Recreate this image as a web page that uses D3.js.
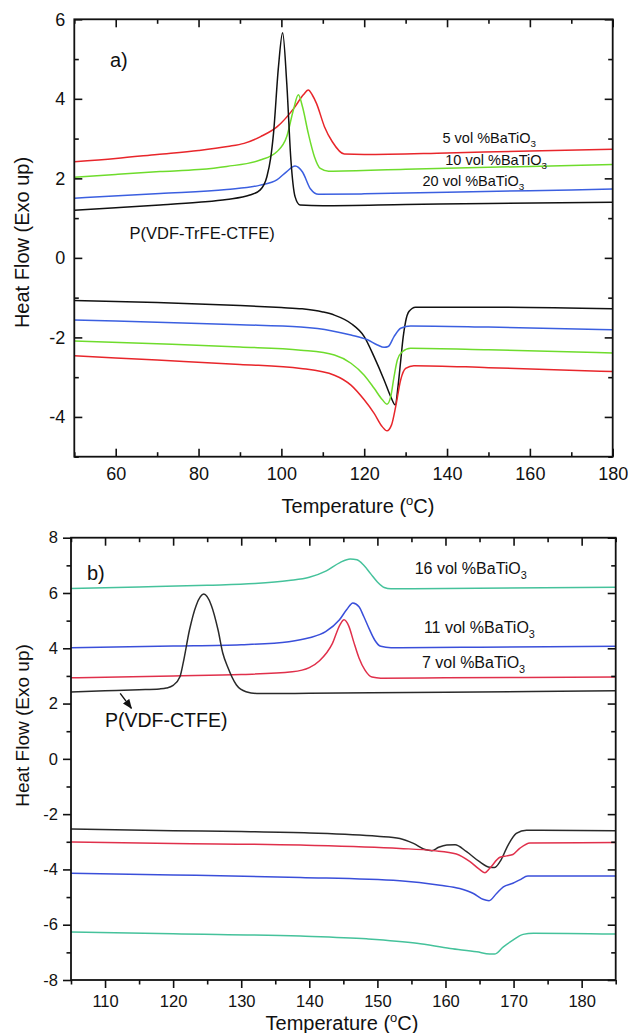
<!DOCTYPE html>
<html>
<head>
<meta charset="utf-8">
<script src="https://cdn.jsdelivr.net/npm/d3@7"></script>
<style>
  body { margin: 0; background: #fff; }
  svg { display: block; }
</style>
</head>
<body>
<svg id="chart" width="628" height="1033"></svg>
<script>
// ---------- Panel a) : P(VDF-TrFE-CTFE) and its BaTiO3 composites ----------
const tempTicksA  = [60, 80, 100, 120, 140, 160, 180];
const tempMinorA  = [50, 70, 90, 110, 130, 150, 170];
const heatTicksA  = [-4, -2, 0, 2, 4, 6];
const heatMinorA  = [-5, -3, -1, 1, 3, 5];

// cooling scans (exotherms), [temperature °C, heat flow]
const aPureCool = [[50,1.2],[60,1.26],[70.7,1.33],[80,1.4],[86.8,1.47],[92.4,1.58],[94.9,1.71],[96.5,2.04],[97.4,2.5],
  [98.1,3.13],[99.3,4.81],[100.3,5.66],[101.3,4.39],[102.3,2.46],[103.3,1.54],[104.5,1.33],[110,1.31],[130,1.34],[150,1.37],[180,1.4]];
const a5Cool  = [[50,2.42],[60,2.5],[70,2.6],[80,2.7],[87,2.8],[91,2.88],[95,3.05],[99,3.3],[103,3.76],[105.3,4.1],
  [106.5,4.22],[107.5,4.09],[108.5,3.88],[110.4,3.3],[112.3,2.92],[115.2,2.61],[120,2.6],[140,2.64],[160,2.69],[180,2.73]];
const a10Cool = [[50,2.03],[60,2.1],[70.7,2.17],[80,2.22],[86.8,2.3],[94.9,2.46],[98.9,2.67],[101.3,3.05],[102.9,3.72],
  [104.1,4.1],[105.1,3.8],[106.5,3.13],[108,2.54],[109.4,2.25],[111.4,2.18],[130,2.23],[160,2.3],[180,2.35]];
const a20Cool = [[50,1.5],[70.7,1.62],[86.8,1.72],[94.9,1.83],[98.9,1.96],[101.3,2.17],[103.3,2.31],[105.1,2.16],
  [107,1.74],[109,1.6],[120,1.61],[140,1.65],[160,1.69],[180,1.73]];

// heating scans (endotherms)
const aPureHeat = [[50,-1.07],[70,-1.12],[90,-1.2],[100,-1.25],[105,-1.28],[110,-1.36],[112.8,-1.44],[116.8,-1.65],
  [120,-1.98],[122.4,-2.49],[124.8,-3.07],[126.4,-3.49],[127.5,-3.7],[128.2,-3.2],[128.8,-2.6],[129.4,-2.0],
  [130,-1.6],[130.8,-1.35],[132.4,-1.24],[150,-1.24],[180,-1.28]];
const a5Heat  = [[50,-2.46],[70,-2.57],[90,-2.68],[104.7,-2.78],[112.8,-2.95],[116.8,-3.2],[120,-3.57],[122.4,-3.91],
  [124.4,-4.25],[125.5,-4.35],[126.6,-4.2],[127.6,-3.74],[128.8,-3.07],[130,-2.78],[132,-2.71],[150,-2.76],[180,-2.86]];
const a10Heat = [[50,-2.09],[70,-2.16],[90,-2.24],[104.7,-2.32],[112.8,-2.44],[116.8,-2.65],[120,-2.95],[122.4,-3.28],
  [124.4,-3.57],[125.5,-3.68],[126.4,-3.49],[127.2,-2.99],[128,-2.57],[129.2,-2.36],[131.2,-2.27],[150,-2.31],[180,-2.39]];
const a20Heat = [[50,-1.56],[70,-1.62],[90,-1.68],[104.7,-1.74],[112,-1.83],[116.8,-1.94],[120.8,-2.06],[123.2,-2.19],
  [124.8,-2.25],[125.8,-2.23],[127.2,-1.98],[128.8,-1.77],[131.2,-1.71],[150,-1.74],[180,-1.81]];

// ---------- Panel b) : P(VDF-CTFE) and its BaTiO3 composites ----------
const tempTicksB  = [110, 120, 130, 140, 150, 160, 170, 180];
const tempMinorB  = [105, 115, 125, 135, 145, 155, 165, 175, 185];
const heatTicksB  = [-8, -6, -4, -2, 0, 2, 4, 6, 8];
const heatMinorB  = [-7, -5, -3, -1, 1, 3, 5, 7];

const bPureCool = [[105,2.42],[110,2.46],[115,2.5],[118,2.53],[119,2.56],[120,2.66],[121,2.97],[121.5,3.5],[122.4,4.66],
  [123.4,5.56],[124.5,5.96],[125.6,5.56],[126.6,4.66],[127.3,3.82],[128,3.33],[129.3,2.67],[130.7,2.43],[132.7,2.36],
  [140,2.37],[160,2.41],[185,2.46]];
const b7Cool  = [[105,2.93],[120,3.0],[130,3.05],[137.5,3.15],[140,3.3],[141.5,3.55],[143.4,4.18],[144.5,4.85],[145.1,5.03],
  [145.8,4.8],[146.5,4.25],[147.3,3.65],[148.2,3.2],[149.2,2.96],[150.5,2.92],[160,2.93],[185,2.96]];
const b11Cool = [[105,4.02],[120,4.08],[130,4.13],[137,4.24],[140,4.38],[142.4,4.6],[144.4,5.02],[145.5,5.4],[146.4,5.64],
  [147.3,5.5],[148,5.15],[148.8,4.7],[149.6,4.3],[150.5,4.07],[152,4.02],[165,4.04],[185,4.07]];
const b16Cool = [[105,6.16],[115,6.22],[125,6.28],[132,6.34],[137,6.45],[140,6.57],[142.5,6.8],[144.5,7.1],[146,7.23],
  [147,7.2],[148,7.0],[149,6.7],[150,6.4],[151,6.2],[152,6.15],[160,6.16],[185,6.21]];

const bPureHeat = [[105,-2.54],[120,-2.6],[130,-2.63],[140,-2.68],[150,-2.8],[153.3,-2.88],[155.3,-3.06],[157,-3.28],
  [158,-3.32],[159,-3.2],[160.2,-3.12],[161.4,-3.11],[163.1,-3.36],[165,-3.72],[166.5,-3.92],[167.2,-3.93],[168,-3.72],
  [169.2,-3.12],[170.4,-2.7],[171.9,-2.58],[185,-2.6]];
const b7Heat  = [[105,-3.01],[120,-3.06],[138.7,-3.12],[153.3,-3.24],[158.2,-3.32],[161.6,-3.44],[163.6,-3.72],[165,-4.0],
  [165.8,-4.12],[166.5,-3.96],[168,-3.56],[169,-3.51],[169.9,-3.46],[170.9,-3.24],[172.4,-3.04],[185,-3.03]];
const b11Heat = [[105,-4.14],[120,-4.2],[138.7,-4.29],[153.3,-4.41],[159.2,-4.57],[162.1,-4.69],[164.1,-4.87],[165.5,-5.08],
  [166.4,-5.13],[167.5,-4.87],[168.5,-4.63],[169.9,-4.5],[170.9,-4.38],[172.1,-4.24],[185,-4.24]];
const b16Heat = [[105,-6.26],[120,-6.33],[138.7,-6.41],[148.4,-6.51],[155.8,-6.67],[160.7,-6.86],[164.6,-6.98],[166.5,-7.06],
  [167.2,-7.06],[168.5,-6.8],[169.9,-6.56],[171.4,-6.35],[172.9,-6.31],[185,-6.34]];

// ---------- drawing ----------
const FONT = '"Liberation Sans", Arial, Helvetica, sans-serif';
const svg = d3.select('#chart');
svg.append('rect').attr('width', 628).attr('height', 1033).attr('fill', '#fff');

const defs = svg.append('defs');
defs.append('marker').attr('id', 'arrowHead')
  .attr('viewBox', '0 0 10 10').attr('refX', 9).attr('refY', 5)
  .attr('markerWidth', 7).attr('markerHeight', 7).attr('orient', 'auto')
  .append('path').attr('d', 'M0,1 L10,5 L0,9 Z').attr('fill', '#111');

function panel(cfg) {
  const x = d3.scaleLinear().domain(cfg.xDomain).range([cfg.left, cfg.right]);
  const y = d3.scaleLinear().domain(cfg.yDomain).range([cfg.bottom, cfg.top]);
  const g = svg.append('g');

  const clipId = cfg.id + 'Clip';
  defs.append('clipPath').attr('id', clipId).append('rect')
    .attr('x', cfg.left).attr('y', cfg.top)
    .attr('width', cfg.right - cfg.left).attr('height', cfg.bottom - cfg.top);

  const line = d3.line().x(d => x(d[0])).y(d => y(d[1])).curve(d3.curveMonotoneX);
  const curves = g.append('g').attr('clip-path', `url(#${clipId})`);
  cfg.series.forEach(s => {
    curves.append('path').datum(s.data)
      .attr('d', line).attr('fill', 'none')
      .attr('stroke', s.color).attr('stroke-width', 1.5)
      .attr('stroke-linejoin', 'round');
  });

  const fmt = d => String(d);
  const inB = cfg.outerTicks ? 1 : -1;   // +1 => ticks point outward on bottom/left
  const major = 8, minor = 4.5;

  // bottom axis
  const bAx = g.append('g').attr('transform', `translate(0,${cfg.bottom})`)
    .call(d3.axisBottom(x).tickValues(cfg.xTicks).tickFormat(fmt)
      .tickSizeInner(inB * major).tickSizeOuter(0).tickPadding(cfg.xPad));
  g.append('g').attr('transform', `translate(0,${cfg.bottom})`)
    .call(d3.axisBottom(x).tickValues(cfg.xMinor).tickFormat('')
      .tickSizeInner(inB * minor).tickSizeOuter(0));
  // left axis
  g.append('g').attr('transform', `translate(${cfg.left},0)`)
    .call(d3.axisLeft(y).tickValues(cfg.yTicks).tickFormat(fmt)
      .tickSizeInner(inB * major).tickSizeOuter(0).tickPadding(cfg.yPad));
  g.append('g').attr('transform', `translate(${cfg.left},0)`)
    .call(d3.axisLeft(y).tickValues(cfg.yMinor).tickFormat('')
      .tickSizeInner(inB * minor).tickSizeOuter(0));
  // top and right axes, ticks inward, no labels
  g.append('g').attr('transform', `translate(0,${cfg.top})`)
    .call(d3.axisTop(x).tickValues(cfg.xTicks).tickFormat('').tickSizeInner(-major).tickSizeOuter(0));
  g.append('g').attr('transform', `translate(0,${cfg.top})`)
    .call(d3.axisTop(x).tickValues(cfg.xMinor).tickFormat('').tickSizeInner(-minor).tickSizeOuter(0));
  g.append('g').attr('transform', `translate(${cfg.right},0)`)
    .call(d3.axisRight(y).tickValues(cfg.yTicks).tickFormat('').tickSizeInner(-major).tickSizeOuter(0));
  g.append('g').attr('transform', `translate(${cfg.right},0)`)
    .call(d3.axisRight(y).tickValues(cfg.yMinor).tickFormat('').tickSizeInner(-minor).tickSizeOuter(0));

  g.selectAll('.domain').remove();
  g.selectAll('.tick line').attr('stroke', '#111').attr('stroke-width', 1.6);
  g.selectAll('.tick text').attr('font-family', FONT).attr('font-size', cfg.tickFont).attr('fill', '#111');

  // frame
  g.append('rect').attr('x', cfg.left).attr('y', cfg.top)
    .attr('width', cfg.right - cfg.left).attr('height', cfg.bottom - cfg.top)
    .attr('fill', 'none').attr('stroke', '#111').attr('stroke-width', 1.8);

  // axis titles
  const xt = g.append('text').attr('x', cfg.xTitle[0]).attr('y', cfg.xTitle[1])
    .attr('text-anchor', 'middle').attr('font-family', FONT).attr('font-size', 20).attr('fill', '#111');
  xt.append('tspan').text('Temperature (');
  xt.append('tspan').attr('font-size', 13).attr('dy', -8).text('o');
  xt.append('tspan').attr('dy', 8).text('C)');

  g.append('text').attr('transform', `translate(${cfg.yTitle[0]},${cfg.yTitle[1]}) rotate(-90)`)
    .attr('text-anchor', 'middle').attr('font-family', FONT).attr('font-size', cfg.yTitleFont).attr('fill', '#111')
    .text('Heat Flow (Exo up)');

  // panel letter
  g.append('text').attr('x', cfg.letter[0]).attr('y', cfg.letter[1])
    .attr('font-family', FONT).attr('font-size', 20).attr('fill', '#111').text(cfg.letter[2]);

  // composition labels
  cfg.labels.forEach(l => {
    const t = g.append('text').attr('x', l.x).attr('y', l.y)
      .attr('font-family', FONT).attr('font-size', l.size).attr('fill', '#111');
    t.append('tspan').text(l.main);
    if (l.sub) t.append('tspan').attr('font-size', l.size * 0.68).attr('dy', l.size * 0.3).text(l.sub);
  });

  return { g, x, y };
}

panel({
  id: 'pa', left: 74.3, right: 612.7, top: 19.3, bottom: 456.7,
  xDomain: [50, 180], yDomain: [-5, 6],
  xTicks: tempTicksA, xMinor: tempMinorA, yTicks: heatTicksA, yMinor: heatMinorA,
  outerTicks: false, xPad: 11, yPad: 9, tickFont: 18,
  xTitle: [358, 513], yTitle: [28.5, 242.5], yTitleFont: 20,
  letter: [110, 67, 'a)'],
  series: [
    { data: a5Cool, color: '#e8262b' }, { data: a10Cool, color: '#6edc2c' },
    { data: a20Cool, color: '#3b5fe0' }, { data: aPureCool, color: '#111' },
    { data: aPureHeat, color: '#111' }, { data: a20Heat, color: '#3b5fe0' },
    { data: a10Heat, color: '#6edc2c' }, { data: a5Heat, color: '#e8262b' }
  ],
  labels: [
    { x: 442.5, y: 142.7, size: 14.5, main: '5 vol %BaTiO', sub: '3' },
    { x: 445.3, y: 165, size: 14.5, main: '10 vol %BaTiO', sub: '3' },
    { x: 422.5, y: 186, size: 14.5, main: '20 vol %BaTiO', sub: '3' },
    { x: 129.6, y: 239, size: 16.5, main: 'P(VDF-TrFE-CTFE)' }
  ]
});

const pb = panel({
  id: 'pb', left: 71, right: 615.7, top: 537.7, bottom: 980,
  xDomain: [105, 185], yDomain: [-8, 8],
  xTicks: tempTicksB, xMinor: tempMinorB, yTicks: heatTicksB, yMinor: heatMinorB,
  outerTicks: true, xPad: 7, yPad: 5, tickFont: 16.5,
  xTitle: [342, 1030], yTitle: [28.8, 725.5], yTitleFont: 19,
  letter: [87, 580, 'b)'],
  series: [
    { data: b16Cool, color: '#45c29b' }, { data: b11Cool, color: '#3a4fda' },
    { data: b7Cool, color: '#e0304b' }, { data: bPureCool, color: '#2a2a2a' },
    { data: bPureHeat, color: '#2a2a2a' }, { data: b7Heat, color: '#e0304b' },
    { data: b11Heat, color: '#3a4fda' }, { data: b16Heat, color: '#45c29b' }
  ],
  labels: [
    { x: 414.7, y: 574.3, size: 16, main: '16 vol %BaTiO', sub: '3' },
    { x: 423.9, y: 633.3, size: 16, main: '11 vol %BaTiO', sub: '3' },
    { x: 421.9, y: 668.3, size: 16, main: '7 vol %BaTiO', sub: '3' },
    { x: 105, y: 727.3, size: 19.5, main: 'P(VDF-CTFE)' }
  ]
});

// arrow pointing from the P(VDF-CTFE) label to its curve
pb.g.append('line')
  .attr('x1', 120.2).attr('y1', 693.3).attr('x2', 131.4).attr('y2', 708.3)
  .attr('stroke', '#111').attr('stroke-width', 1.4).attr('marker-end', 'url(#arrowHead)');
</script>
</body>
</html>
